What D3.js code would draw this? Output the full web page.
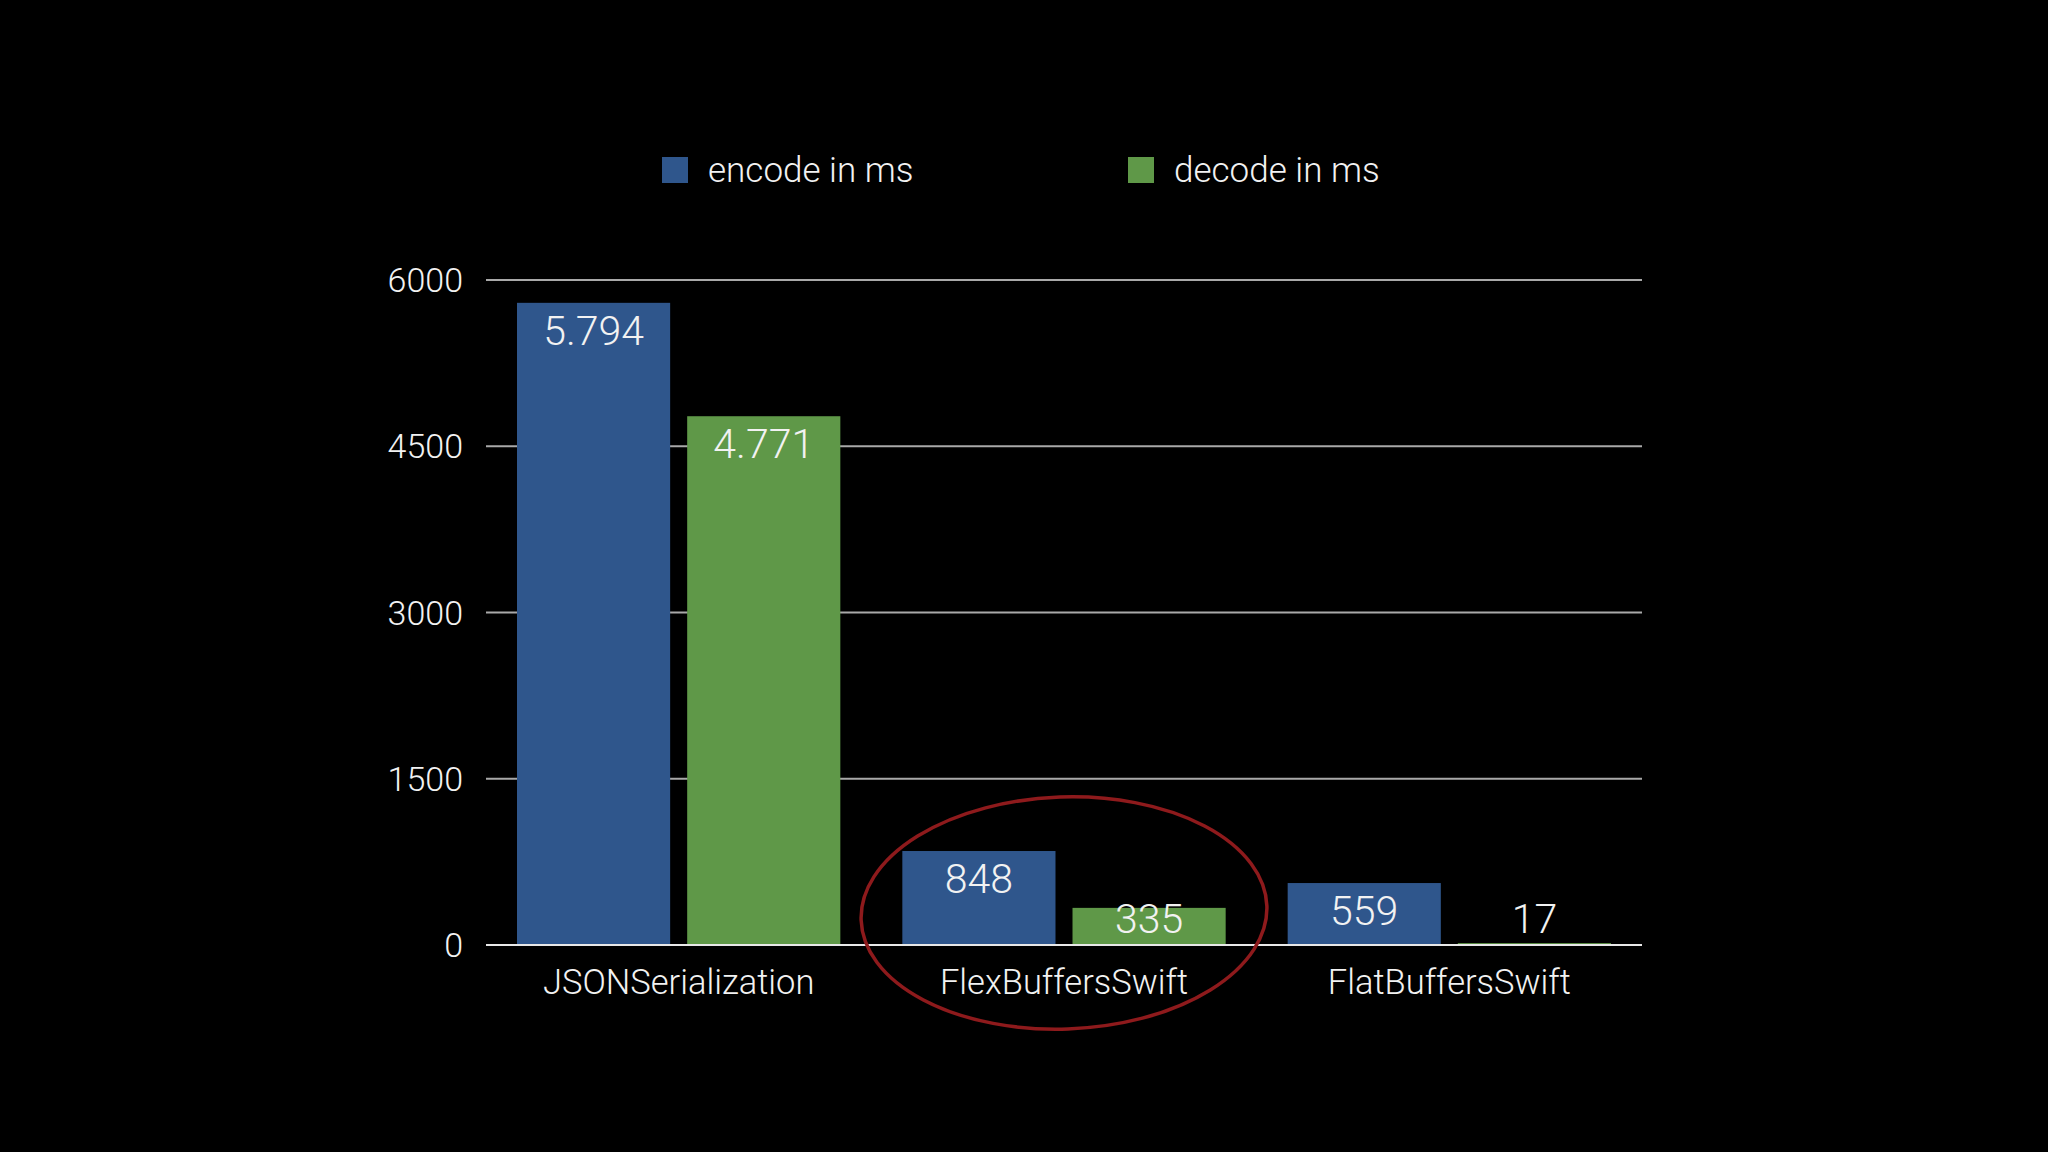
<!DOCTYPE html>
<html>
<head>
<meta charset="utf-8">
<script src="https://cdn.jsdelivr.net/npm/d3@7"></script>
<style>
  html, body { margin: 0; padding: 0; background: #000; }
  text { font-family: "Roboto", "Liberation Sans", sans-serif; font-weight: 300; fill: #f2f2f2; }
</style>
</head>
<body>
<div id="chart"></div>
<script>
// data
var categories = ["JSONSerialization", "FlexBuffersSwift", "FlatBuffersSwift"];
var seriesNames = ["encode in ms", "decode in ms"];
var encodeValues = [5794, 848, 559];
var decodeValues = [4771, 335, 17];
var valueLabels = [["5.794", "4.771"], ["848", "335"], ["559", "17"]];
var yTicks = [0, 1500, 3000, 4500, 6000];
var highlighted = "FlexBuffersSwift";

var colors = ["#2f568c", "#5f9848"];

var W = 2048, H = 1152;
var margin = {top: 280, right: 406, bottom: 207, left: 486},
    width = W - margin.left - margin.right,
    height = H - margin.top - margin.bottom;

var svg = d3.select("#chart").append("svg")
    .attr("width", W)
    .attr("height", H);

svg.append("rect").attr("width", W).attr("height", H).attr("fill", "#000");

var g = svg.append("g")
    .attr("transform", "translate(" + margin.left + "," + margin.top + ")");

// scales
var x0 = d3.scaleBand().domain(categories).range([0, width]).padding(0);
var x1 = d3.scaleBand().domain(seriesNames)
    .range([31, x0.bandwidth() - 31]).paddingInner(0.1);
var y = d3.scaleLinear().domain([0, 6000]).range([height, 0]);

var rows = categories.map(function(c, i) {
  return {cat: c, vals: [encodeValues[i], decodeValues[i]], labels: valueLabels[i]};
});

// gridlines
g.selectAll(".grid")
    .data(yTicks.filter(function(d) { return d > 0; }))
  .enter().append("line")
    .attr("x1", 0).attr("x2", width)
    .attr("y1", function(d) { return y(d); })
    .attr("y2", function(d) { return y(d); })
    .attr("stroke", "#a9a9a9")
    .attr("stroke-width", 2);

// y tick labels
g.selectAll(".ytick")
    .data(yTicks)
  .enter().append("text")
    .attr("x", -23)
    .attr("y", function(d) { return y(d); })
    .attr("dy", "0.36em")
    .attr("text-anchor", "end")
    .style("font-size", "34px")
    .text(function(d) { return d; });

// bars
var groups = g.selectAll(".grp")
    .data(rows)
  .enter().append("g")
    .attr("transform", function(d) { return "translate(" + x0(d.cat) + ",0)"; });

groups.selectAll("rect")
    .data(function(d) { return d.vals.map(function(v, k) { return {k: k, v: v}; }); })
  .enter().append("rect")
    .attr("x", function(d) { return x1(seriesNames[d.k]); })
    .attr("y", function(d) { return y(d.v); })
    .attr("width", x1.bandwidth())
    .attr("height", function(d) { return Math.max(2, height - y(d.v)); })
    .attr("fill", function(d) { return colors[d.k]; });

groups.selectAll(".val")
    .data(function(d) { return d.vals.map(function(v, k) { return {k: k, v: v, label: d.labels[k]}; }); })
  .enter().append("text")
    .attr("x", function(d) { return x1(seriesNames[d.k]) + x1.bandwidth() / 2; })
    .attr("y", function(d) { return Math.min(y(d.v) + 42, height - 12); })
    .attr("text-anchor", "middle")
    .style("font-size", "41px")
    .text(function(d) { return d.label; });

// zero line
g.append("line")
    .attr("x1", 0).attr("x2", width)
    .attr("y1", y(0)).attr("y2", y(0))
    .attr("stroke", "#e8e8e8")
    .attr("stroke-width", 2);

// category labels
g.selectAll(".cat")
    .data(categories)
  .enter().append("text")
    .attr("x", function(d) { return x0(d) + x0.bandwidth() / 2; })
    .attr("y", height + 49)
    .attr("text-anchor", "middle")
    .style("font-size", "34.5px")
    .text(function(d) { return d; });

// highlight ellipse
var ecx = x0(highlighted) + x0.bandwidth() / 2, ecy = height - 32;
g.append("ellipse")
    .attr("cx", ecx)
    .attr("cy", ecy)
    .attr("rx", 203)
    .attr("ry", 116)
    .attr("transform", "rotate(-2," + ecx + "," + ecy + ")")
    .attr("fill", "none")
    .attr("stroke", "#8e1a1c")
    .attr("stroke-width", 3.5);

// legend
var legendX = [662, 1128];
var legend = svg.selectAll(".legend")
    .data(seriesNames)
  .enter().append("g")
    .attr("transform", function(d, i) { return "translate(" + legendX[i] + ",157)"; });

legend.append("rect")
    .attr("width", 26).attr("height", 26)
    .attr("fill", function(d, i) { return colors[i]; });

legend.append("text")
    .attr("x", 46)
    .attr("y", 25)
    .style("font-size", "35px")
    .text(function(d) { return d; });
</script>
</body>
</html>
